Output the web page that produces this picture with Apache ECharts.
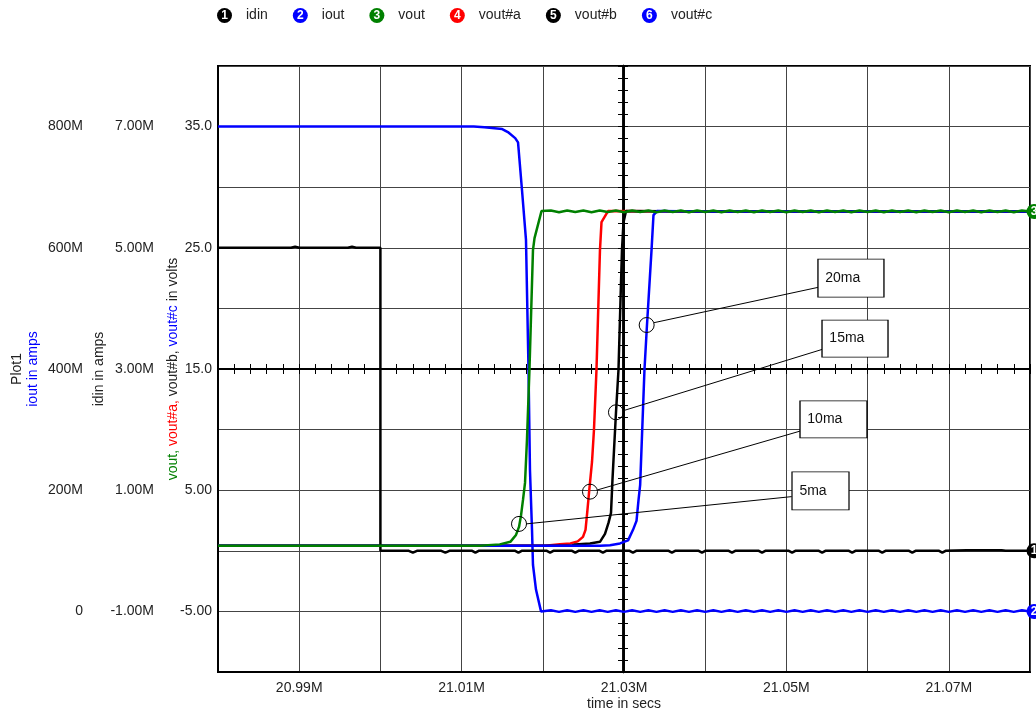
<!DOCTYPE html>
<html><head><meta charset="utf-8">
<script src="https://cdn.jsdelivr.net/npm/echarts@6/dist/echarts.min.js"></script>
<style>html,body{margin:0;padding:0;background:#fff}#chart{width:1036px;height:712px}</style>
</head><body><div id="chart"></div>
<script>
// ---------- data ----------
const seriesNames = ['idin', 'iout', 'vout', 'vout#a', 'vout#b', 'vout#c'];
const xTickLabels = ['20.99M', '21.01M', '21.03M', '21.05M', '21.07M'];
const voltTickLabels = ['35.0', '25.0', '15.0', '5.00', '-5.00'];
const idinTickLabels = ['7.00M', '5.00M', '3.00M', '1.00M', '-1.00M'];
const ioutTickLabels = ['800M', '600M', '400M', '200M', '0'];

// idin (milliamps "M"), time in "M"
const idinData = [
  [20.98,5.0],[20.989,5.0],[20.9895,5.02],[20.990,5.0],[20.996,5.0],[20.9965,5.02],[20.997,5.0],[21.0,5.0],
  [21.0,0.0],[21.0035,0.0],[21.004,-0.03],[21.0045,0.0],[21.0075,0.0],[21.008,-0.03],[21.0085,0.0],
  [21.0113,0.0],[21.0117,-0.03],[21.0121,0.0],[21.0166,0.0],[21.017,-0.03],[21.0174,0.0],
  [21.0205,0.0],[21.0209,-0.03],[21.0213,0.0],[21.0236,0.0],[21.024,-0.03],[21.0244,0.0],
  [21.027,0.0],[21.0274,-0.03],[21.0278,0.0],[21.0307,0.0],[21.0311,-0.03],[21.0315,0.0],
  [21.0355,0.0],[21.0359,-0.03],[21.0363,0.0],[21.0392,0.0],[21.0396,-0.03],[21.04,0.0],
  [21.0429,0.0],[21.0433,-0.03],[21.0437,0.0],[21.0466,0.0],[21.047,-0.03],[21.0474,0.0],
  [21.0503,0.0],[21.0507,-0.03],[21.0511,0.0],[21.054,0.0],[21.0544,-0.03],[21.0548,0.0],
  [21.0577,0.0],[21.0581,-0.03],[21.0585,0.0],[21.0614,0.0],[21.0618,-0.03],[21.0622,0.0],
  [21.0651,0.0],[21.0655,-0.03],[21.0659,0.0],[21.0688,0.0],[21.0692,-0.03],[21.0696,0.0],
  [21.0722,0.01],[21.0765,0.01],[21.077,0.0],[21.08,0.0]
];
const ioutData = [
  [20.98,800],[21.0115,800],[21.0128,799],[21.015,796],[21.0157,791],[21.0166,781],[21.01695,774],
  [21.01744,695],[21.01793,613],[21.01824,400],[21.01842,233],[21.01867,135],[21.01879,77],
  [21.01916,36],[21.01978,0],
  [21.021,1.8],[21.022,-0.8],[21.023,1.8],[21.024,-0.8],[21.025,1.8],[21.026,-0.8],[21.027,1.8],[21.028,-0.8],
  [21.029,1.8],[21.030,-0.8],[21.031,1.8],[21.032,-0.8],[21.033,1.8],[21.034,-0.8],[21.035,1.8],[21.036,-0.8],
  [21.037,1.8],[21.038,-0.8],[21.039,1.8],[21.040,-0.8],[21.041,1.8],[21.042,-0.8],[21.043,1.8],[21.044,-0.8],
  [21.045,1.8],[21.046,-0.8],[21.047,1.8],[21.048,-0.8],[21.049,1.8],[21.050,-0.8],[21.051,1.8],[21.052,-0.8],
  [21.053,1.8],[21.054,-0.8],[21.055,1.8],[21.056,-0.8],[21.057,1.8],[21.058,-0.8],[21.059,1.8],[21.060,-0.8],
  [21.061,1.8],[21.062,-0.8],[21.063,1.8],[21.064,-0.8],[21.065,1.8],[21.066,-0.8],[21.067,1.8],[21.068,-0.8],
  [21.069,1.8],[21.070,-0.8],[21.071,1.8],[21.072,-0.8],[21.073,1.8],[21.074,-0.8],[21.075,1.8],[21.076,-0.8],
  [21.077,1.8],[21.078,-0.8],[21.079,1.8],[21.080,0.0]
];
const voutData = [
  [20.98,0.41],[21.0123,0.41],[21.0147,0.53],[21.016,0.74],[21.0167,1.31],[21.01707,1.97],[21.01731,2.88],
  [21.01756,4.20],[21.01781,5.60],[21.01805,9.15],[21.01836,15.0],[21.01879,24.81],[21.01898,25.80],[21.01984,28.03],
  [21.021,28.07],[21.022,27.94],[21.023,28.08],[21.024,27.95],[21.025,28.07],[21.026,27.94],[21.027,28.08],[21.028,27.95],
  [21.029,28.07],[21.030,27.94],[21.031,28.08],[21.032,27.95],[21.033,28.07],[21.034,27.94],[21.035,28.08],[21.036,27.95],
  [21.037,28.07],[21.038,27.94],[21.039,28.08],[21.040,27.95],[21.041,28.07],[21.042,27.94],[21.043,28.08],[21.044,27.95],
  [21.045,28.07],[21.046,27.94],[21.047,28.08],[21.048,27.95],[21.049,28.07],[21.050,27.94],[21.051,28.08],[21.052,27.95],
  [21.053,28.07],[21.054,27.94],[21.055,28.08],[21.056,27.95],[21.057,28.07],[21.058,27.94],[21.059,28.08],[21.060,27.95],
  [21.061,28.07],[21.062,27.94],[21.063,28.08],[21.064,27.95],[21.065,28.07],[21.066,27.94],[21.067,28.08],[21.068,27.95],
  [21.069,28.07],[21.070,27.94],[21.071,28.08],[21.072,27.95],[21.073,28.07],[21.074,27.94],[21.075,28.08],[21.076,27.95],
  [21.077,28.07],[21.078,27.94],[21.079,28.08],[21.080,28.0]
];
const voutAData = [
  [20.98,0.41],[21.0203,0.41],[21.0221,0.55],[21.0234,0.61],[21.0243,0.78],[21.02495,1.15],[21.02526,1.73],
  [21.0255,3.38],[21.02569,4.78],[21.02606,7.33],[21.0263,9.97],[21.02661,14.92],[21.02686,20.69],
  [21.02704,24.81],[21.02723,27.12],[21.02803,28.03],[21.04,28.0],[21.06,28.0],[21.08,28.0]
];
const voutBData = [
  [20.98,0.41],[21.0235,0.41],[21.02396,0.53],[21.02581,0.61],[21.02704,0.74],[21.02766,1.40],[21.02809,2.30],
  [21.0284,3.13],[21.02858,5.85],[21.02877,8.32],[21.02901,11.37],[21.02932,14.92],[21.02957,20.69],
  [21.02975,24.81],[21.02994,27.12],[21.03025,28.03],[21.04,28.0],[21.06,28.0],[21.08,28.0]
];
const voutCData = [
  [20.98,0.41],[21.02704,0.41],[21.02828,0.45],[21.02951,0.61],[21.0305,0.86],[21.03111,1.73],[21.03154,2.47],
  [21.03179,4.20],[21.03199,5.44],[21.03252,14.92],[21.03283,18.63],[21.03339,24.81],[21.03363,27.70],
  [21.03406,28.03],[21.04,28.0],[21.06,28.0],[21.08,28.0]
];
// annotation callouts (data coordinates: time, volts)
const annoLabels = ['20ma', '15ma', '10ma', '5ma'];
const annoCircle = [[21.03279,18.63],[21.02901,11.43],[21.02581,4.88],[21.01707,2.22]];
const annoFrom   = [[21.03369,18.82],[21.02991,11.56],[21.02671,5.02],[21.01793,2.22]];
const annoTo     = [[21.05393,21.74],[21.05442,16.62],[21.05176,9.89],[21.05065,4.47]];
const annoBox    = [[21.05795,22.50],[21.05845,17.51],[21.0558,10.84],[21.0542,4.94]];

// ---------- styles ----------
const colors = ['#000000', '#0000ff', '#008000', '#ff0000', '#000000', '#0000ff'];
const boxSizes = [[66,38],[66,37],[67,37],[57,38]];
const FONT = 'Liberation Sans, Arial, sans-serif';
const gridCol = '#444';

const chart = echarts.init(document.getElementById('chart'), null, {renderer: 'canvas'});

const legendRich = { t: {fontSize: 14, color: '#222', padding: [0,0,0,14], fontFamily: FONT} };
seriesNames.forEach((n, i) => {
  legendRich['c' + (i+1)] = {backgroundColor: colors[i], color: '#fff', width: 15, height: 15,
    borderRadius: 8, align: 'center', fontSize: 12, fontWeight: 'bold', lineHeight: 15, fontFamily: FONT};
});

function endMarker(num, coord, color) {
  return {coord: coord, symbol: 'circle', symbolSize: 15, symbolOffset: [4, 0],
    itemStyle: {color: color, borderWidth: 0},
    label: {show: true, formatter: String(num), color: '#fff', fontSize: 12, fontWeight: 'bold', position: 'inside'}};
}

const annoMarkPoints = [];
const annoMarkLines = [];
annoLabels.forEach((lab, i) => {
  annoMarkPoints.push({coord: annoCircle[i], symbol: 'circle', symbolSize: 15,
    itemStyle: {color: 'rgba(0,0,0,0)', borderColor: '#000', borderWidth: 1}, label: {show: false}});
  annoMarkPoints.push({coord: annoBox[i], symbol: 'rect', symbolSize: boxSizes[i],
    itemStyle: {color: '#fff', borderColor: '#000', borderWidth: 1},
    label: {show: true, formatter: lab, position: 'insideLeft', distance: 8, color: '#111', fontSize: 14, fontFamily: FONT}});
  annoMarkLines.push([{coord: annoFrom[i]}, {coord: annoTo[i]}]);
});

const baseVal = {type: 'value', min: -10, max: 40, interval: 5};
const crossTick = {show: true, length: 5, lineStyle: {color: '#000', width: 1}};
const crossMinor = {show: true, splitNumber: 5, length: 5, lineStyle: {color: '#000', width: 1}};

const option = {
  animation: false,
  backgroundColor: '#fff',
  textStyle: {fontFamily: FONT},
  grid: {left: 218, right: 6, top: 66, bottom: 40, show: true, borderColor: '#000', borderWidth: 2,
         backgroundColor: 'transparent', containLabel: false, outerBoundsMode: 'none'},
  legend: {
    data: seriesNames, top: 3, left: 207, itemGap: 20, itemWidth: 0, itemHeight: 15, icon: 'none',
    formatter: name => '{c' + (seriesNames.indexOf(name)+1) + '|' + (seriesNames.indexOf(name)+1) + '}{t|' + name + '}',
    textStyle: {rich: legendRich}
  },
  xAxis: [
    {type: 'value', min: 20.98, max: 21.08, interval: 0.01, position: 'bottom',
     axisLine: {onZero: false, lineStyle: {color: '#000', width: 2}}, axisTick: {show: false},
     splitLine: {show: true, lineStyle: {color: gridCol, width: 1}},
     axisLabel: {margin: 9, fontSize: 14, color: '#222', fontFamily: FONT, showMinLabel: true, showMaxLabel: true,
       formatter: v => { const s = v.toFixed(2) + 'M'; return xTickLabels.includes(s) ? s : ''; }},
     name: 'time in secs', nameLocation: 'middle', nameGap: 25, nameMoveOverlap: false,
     nameTextStyle: {fontSize: 14, color: '#222', fontFamily: FONT}},
    {type: 'value', min: 20.98, max: 21.08, interval: 0.01, position: 'bottom', offset: -303,
     axisLine: {onZero: false, lineStyle: {color: '#000', width: 2}},
     axisTick: Object.assign({inside: true}, crossTick), minorTick: crossMinor,
     axisLabel: {show: false}, splitLine: {show: false}},
    {type: 'value', min: 20.98, max: 21.08, interval: 0.01, position: 'bottom', offset: -303,
     axisLine: {onZero: false, lineStyle: {color: '#000', width: 2}},
     axisTick: Object.assign({inside: false}, crossTick), minorTick: crossMinor,
     axisLabel: {show: false}, splitLine: {show: false}}
  ],
  yAxis: [
    Object.assign({}, baseVal, {position: 'left',
     axisLine: {onZero: false, lineStyle: {color: '#000', width: 2}}, axisTick: {show: false},
     splitLine: {show: true, lineStyle: {color: gridCol, width: 1}},
     axisLabel: {margin: 6, fontSize: 14, color: '#222', fontFamily: FONT, showMinLabel: true, showMaxLabel: true,
       formatter: v => { const s = v.toPrecision(3); return voltTickLabels.includes(s) ? s : ''; }},
     name: '{g|vout, }{r|vout#a, }{k|vout#b, }{b|vout#c}{k| in volts}', nameLocation: 'middle', nameRotate: 90, nameGap: 38,
     nameMoveOverlap: false,
     nameTextStyle: {fontSize: 14, fontFamily: FONT, rich: {
       g: {color: '#008000', fontSize: 14, fontFamily: FONT}, r: {color: '#ff0000', fontSize: 14, fontFamily: FONT},
       k: {color: '#222', fontSize: 14, fontFamily: FONT}, b: {color: '#0000ff', fontSize: 14, fontFamily: FONT}}}}),
    {type: 'value', min: -2, max: 8, interval: 1, position: 'left', offset: 56,
     axisLine: {show: false, onZero: false}, axisTick: {show: false}, splitLine: {show: false},
     axisLabel: {margin: 8, fontSize: 14, color: '#222', fontFamily: FONT, showMinLabel: true, showMaxLabel: true,
       formatter: v => { const s = v.toPrecision(3) + 'M'; return idinTickLabels.includes(s) ? s : ''; }},
     name: 'idin in amps', nameLocation: 'middle', nameRotate: 90, nameGap: 56, nameMoveOverlap: false,
     nameTextStyle: {fontSize: 14, color: '#222', fontFamily: FONT}},
    {type: 'value', min: -100, max: 900, interval: 100, position: 'left', offset: 127,
     axisLine: {show: false, onZero: false}, axisTick: {show: false}, splitLine: {show: false},
     axisLabel: {margin: 8, fontSize: 14, color: '#222', fontFamily: FONT, showMinLabel: true, showMaxLabel: true,
       formatter: v => { const s = (v === 0 ? '0' : Math.round(v) + 'M'); return ioutTickLabels.includes(s) ? s : ''; }},
     name: '{k|Plot1}\n{b|iout in amps}', nameLocation: 'middle', nameRotate: 90, nameGap: 50, nameMoveOverlap: false,
     nameTextStyle: {fontSize: 14, fontFamily: FONT, lineHeight: 16, rich: {
       k: {color: '#222', fontSize: 14, lineHeight: 16, fontFamily: FONT}, b: {color: '#0000ff', fontSize: 14, lineHeight: 16, fontFamily: FONT}}}},
    Object.assign({}, baseVal, {position: 'left', offset: -405,
     axisLine: {onZero: false, lineStyle: {color: '#000', width: 2.5}},
     axisTick: Object.assign({inside: true}, crossTick), minorTick: crossMinor,
     axisLabel: {show: false}, splitLine: {show: false}}),
    Object.assign({}, baseVal, {position: 'left', offset: -405,
     axisLine: {onZero: false, lineStyle: {color: '#000', width: 2.5}},
     axisTick: Object.assign({inside: false}, crossTick), minorTick: crossMinor,
     axisLabel: {show: false}, splitLine: {show: false}})
  ],
  series: [
    {name: 'idin', type: 'line', yAxisIndex: 1, data: idinData, showSymbol: false, z: 3,
     lineStyle: {color: colors[0], width: 2.5}, itemStyle: {color: colors[0]},
     markPoint: {silent: true, data: [endMarker(1, [21.08, 0.0], colors[0])]}},
    {name: 'iout', type: 'line', yAxisIndex: 2, data: ioutData, showSymbol: false, z: 2,
     lineStyle: {color: colors[1], width: 2.5}, itemStyle: {color: colors[1]},
     markPoint: {silent: true, data: [endMarker(2, [21.08, 0.0], colors[1])]}},
    {name: 'vout', type: 'line', yAxisIndex: 0, data: voutData, showSymbol: false, z: 4,
     lineStyle: {color: colors[2], width: 2.5}, itemStyle: {color: colors[2]},
     markPoint: {silent: true, data: annoMarkPoints.concat([endMarker(3, [21.08, 28.0], colors[2])])},
     markLine: {silent: true, symbol: ['none', 'none'], label: {show: false},
       lineStyle: {color: '#000', width: 1, type: 'solid'}, data: annoMarkLines}},
    {name: 'vout#a', type: 'line', yAxisIndex: 0, data: voutAData, showSymbol: false, z: 2,
     lineStyle: {color: colors[3], width: 2.5}, itemStyle: {color: colors[3]}},
    {name: 'vout#b', type: 'line', yAxisIndex: 0, data: voutBData, showSymbol: false, z: 2,
     lineStyle: {color: colors[4], width: 2.5}, itemStyle: {color: colors[4]}},
    {name: 'vout#c', type: 'line', yAxisIndex: 0, data: voutCData, showSymbol: false, z: 2,
     lineStyle: {color: colors[5], width: 2.5}, itemStyle: {color: colors[5]}}
  ]
};
chart.setOption(option);
</script>
</body></html>
